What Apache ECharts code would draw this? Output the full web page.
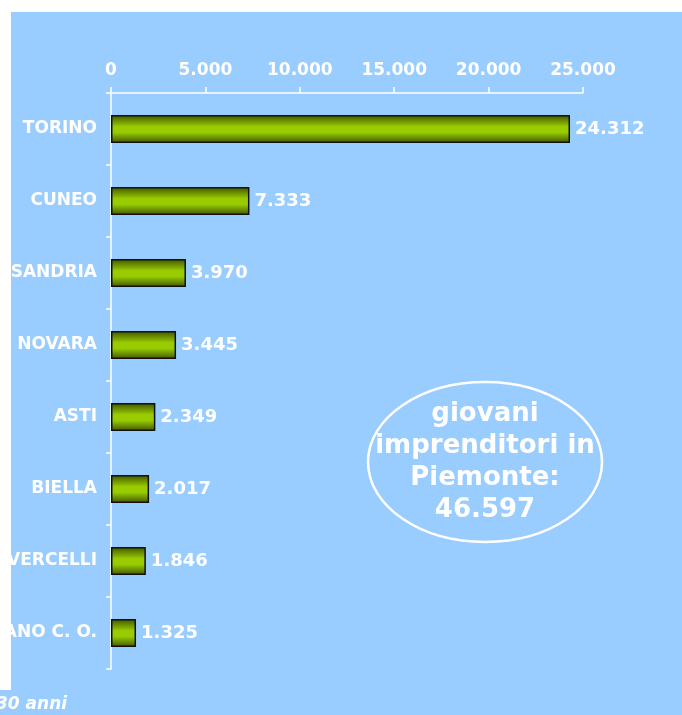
<!DOCTYPE html>
<html>
<head>
<meta charset="utf-8">
<script src="https://cdn.jsdelivr.net/npm/echarts@6/dist/echarts.min.js"></script>
<style>
  html, body { margin: 0; padding: 0; background: #99ccff; }
  #chart { width: 682px; height: 715px; }
</style>
</head>
<body>
<div id="chart"></div>
<script>
// province data (giovani imprenditori)
var categories = ['TORINO', 'CUNEO', 'ALESSANDRIA', 'NOVARA', 'ASTI', 'BIELLA', 'VERCELLI', 'VERBANO C. O.'];
var values = [24312, 7333, 3970, 3445, 2349, 2017, 1846, 1325];
var totalLines = ['giovani', 'imprenditori in', 'Piemonte:', '46.597'];
var footText = '30 anni';

function fmt(v) {
  return String(v).replace(/\B(?=(\d{3})+(?!\d))/g, '.');
}

var font = 'DejaVu Sans, Verdana, sans-serif';
var chart = echarts.init(document.getElementById('chart'));

var option = {
  backgroundColor: '#99ccff',
  animation: false,
  grid: { left: 111, right: 99, top: 93, bottom: 46, containLabel: false, outerBoundsMode: 'none' },
  xAxis: {
    type: 'value',
    position: 'top',
    min: 0,
    max: 25000,
    interval: 5000,
    axisLine: { show: true, lineStyle: { color: '#fff', width: 1.5 } },
    axisTick: { show: true, length: 6, lineStyle: { color: '#fff', width: 1.5 } },
    splitLine: { show: false },
    axisLabel: {
      color: '#fff', fontWeight: 'bold', fontSize: 17, fontFamily: font, margin: 14,
      formatter: function (v) { return fmt(v); }
    }
  },
  yAxis: {
    type: 'category',
    inverse: true,
    data: categories,
    axisLine: { show: true, lineStyle: { color: '#fff', width: 1.5 } },
    axisTick: { show: true, length: 5, lineStyle: { color: '#fff', width: 1.5 } },
    axisLabel: { color: '#fff', fontWeight: 'bold', fontSize: 17, fontFamily: font, margin: 14 }
  },
  series: [{
    type: 'bar',
    data: values,
    barWidth: 28,
    itemStyle: {
      borderColor: '#111',
      borderWidth: 1.5,
      color: new echarts.graphic.LinearGradient(0, 0, 0, 1, [
        { offset: 0, color: '#3f5500' },
        { offset: 0.42, color: '#99cc00' },
        { offset: 0.62, color: '#99cc00' },
        { offset: 1, color: '#3f5500' }
      ])
    },
    label: {
      show: true,
      position: 'right',
      distance: 5,
      color: '#fff',
      fontWeight: 'bold',
      fontSize: 18,
      fontFamily: font,
      formatter: function (p) { return fmt(p.value); }
    }
  }],
  graphic: [
    { type: 'rect', z: 100, shape: { x: 0, y: 0, width: 682, height: 12 }, style: { fill: '#fff' } },
    { type: 'rect', z: 100, shape: { x: 0, y: 0, width: 11, height: 690 }, style: { fill: '#fff' } },
    {
      type: 'ellipse', z: 50,
      shape: { cx: 485, cy: 462, rx: 117, ry: 80 },
      style: { fill: 'none', stroke: '#fff', lineWidth: 2.5 }
    },
    {
      type: 'text', z: 50, x: 485, y: 462,
      style: {
        text: totalLines.join('\n'),
        fill: '#fff',
        font: 'bold 26px ' + font,
        lineHeight: 32,
        align: 'center',
        verticalAlign: 'middle'
      }
    },
    {
      type: 'text', z: 100, x: -4, y: 705,
      style: {
        text: footText,
        fill: '#fff',
        font: 'italic bold 17px ' + font,
        align: 'left',
        verticalAlign: 'middle'
      }
    }
  ]
};

chart.setOption(option);
</script>
</body>
</html>
